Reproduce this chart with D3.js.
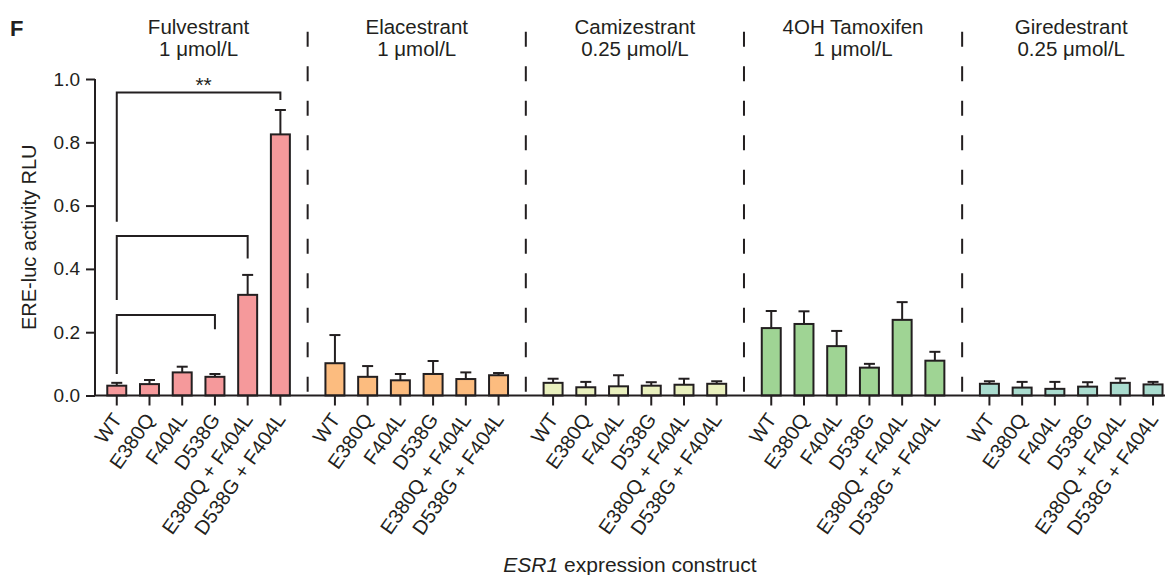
<!DOCTYPE html>
<html>
<head>
<meta charset="utf-8">
<script src="https://cdn.jsdelivr.net/npm/d3@7/dist/d3.min.js"></script>
<style>
  html, body { margin: 0; padding: 0; background: #fff; }
  svg { display: block; font-family: "Liberation Sans", Arial, Helvetica, sans-serif; }
</style>
</head>
<body>
<svg id="chart" width="1165" height="575"></svg>
<script>
// ---------------- data ----------------
const groups = ["Fulvestrant", "Elacestrant", "Camizestrant", "4OH Tamoxifen", "Giredestrant"];
const doses = ["1 μmol/L", "1 μmol/L", "0.25 μmol/L", "1 μmol/L", "0.25 μmol/L"];
const constructs = ["WT", "E380Q", "F404L", "D538G", "E380Q + F404L", "D538G + F404L"];
const colors = ["#f5999b", "#fcbc7f", "#e9f0be", "#9fd494", "#aadccf"];

const fulvestrantMean = [0.031, 0.036, 0.073, 0.059, 0.318, 0.825];
const fulvestrantErr  = [0.009, 0.013, 0.018, 0.009, 0.063, 0.077];
const elacestrantMean = [0.102, 0.059, 0.048, 0.068, 0.052, 0.064];
const elacestrantErr  = [0.089, 0.034, 0.020, 0.041, 0.021, 0.007];
const camizestrantMean = [0.040, 0.026, 0.029, 0.031, 0.034, 0.037];
const camizestrantErr  = [0.013, 0.017, 0.035, 0.011, 0.019, 0.008];
const tamoxifenMean = [0.213, 0.226, 0.156, 0.088, 0.239, 0.110];
const tamoxifenErr  = [0.054, 0.040, 0.048, 0.012, 0.056, 0.028];
const giredestrantMean = [0.037, 0.025, 0.021, 0.028, 0.040, 0.035];
const giredestrantErr  = [0.008, 0.018, 0.022, 0.014, 0.014, 0.008];

const means = [fulvestrantMean, elacestrantMean, camizestrantMean, tamoxifenMean, giredestrantMean];
const errs = [fulvestrantErr, elacestrantErr, camizestrantErr, tamoxifenErr, giredestrantErr];

const yTicks = [0, 0.2, 0.4, 0.6, 0.8, 1.0];

// significance brackets (Fulvestrant group): from/to construct index, levels in RLU
const bracketFrom = [0, 0, 0];
const bracketTo = [5, 4, 3];
const bracketLevel = [0.957, 0.504, 0.254];
const bracketLeftEnd = [0.549, 0.302, 0.068];
const bracketRightEnd = [0.934, 0.433, 0.209];
const bracketLabel = ["**", "", ""];

// ---------------- layout ----------------
const svg = d3.select("#chart");
const ink = "#231f20";
const axisX = 95, plotRight = 1165;

const y = d3.scaleLinear().domain([0, 1]).range([395.5, 79]);
const outer = d3.scaleBand().domain(groups).range([100.4, 1169.4]).paddingInner(0.1).paddingOuter(0);
const inner = d3.scaleBand().domain(constructs).range([0, outer.bandwidth()])
  .paddingInner(0.42).paddingOuter(0.21);
const cx = (g, c) => outer(g) + inner(c) + inner.bandwidth() / 2;

// rows
const rows = [];
groups.forEach((g, gi) => constructs.forEach((c, ci) => {
  rows.push({ g, gi, c, ci, v: means[gi][ci], e: errs[gi][ci] });
}));

// panel label
svg.append("text").attr("x", 10).attr("y", 35.5)
  .attr("font-size", 22).attr("font-weight", "bold").attr("fill", ink).text("F");

// dashed separators
groups.slice(0, -1).forEach((g) => {
  const xx = outer(g) + outer.bandwidth() + (outer.step() - outer.bandwidth()) / 2;
  svg.append("line").attr("x1", xx).attr("x2", xx).attr("y1", 31.7).attr("y2", y(0))
    .attr("stroke", ink).attr("stroke-width", 2).attr("stroke-dasharray", "15,19.5");
});

// group titles
groups.forEach((g, gi) => {
  const t = svg.append("text").attr("text-anchor", "middle").attr("font-size", 20.5).attr("fill", ink);
  const mx = outer(g) + outer.bandwidth() / 2;
  t.append("tspan").attr("x", mx).attr("y", 34).text(g);
  t.append("tspan").attr("x", mx).attr("y", 56).text(doses[gi]);
});

// y axis
const yAxis = d3.axisLeft(y).tickValues(yTicks).tickFormat(d3.format(".1f")).tickSize(9).tickPadding(6);
const yg = svg.append("g").attr("transform", `translate(${axisX},0)`).call(yAxis);
yg.select(".domain").remove();
yg.append("line").attr("x1", 0).attr("x2", 0).attr("y1", y(1)).attr("y2", y(0))
  .attr("stroke", ink).attr("stroke-width", 2);
yg.selectAll(".tick line").attr("stroke", ink).attr("stroke-width", 2);
yg.selectAll(".tick text").attr("font-size", 19).attr("fill", ink).attr("font-family", null);

// y axis title
svg.append("text").attr("transform", `translate(36,${(y(0) + y(1)) / 2}) rotate(-90)`)
  .attr("text-anchor", "middle").attr("font-size", 20).attr("fill", ink).text("ERE-luc activity RLU");

// bars
svg.append("g").selectAll("rect").data(rows).join("rect")
  .attr("x", d => outer(d.g) + inner(d.c))
  .attr("width", inner.bandwidth())
  .attr("y", d => y(d.v))
  .attr("height", d => y(0) - y(d.v))
  .attr("fill", d => colors[d.gi])
  .attr("stroke", ink).attr("stroke-width", 2);

// error bars
const eb = svg.append("g").attr("stroke", ink).attr("stroke-width", 2);
eb.selectAll("line.v").data(rows).join("line").attr("class", "v")
  .attr("x1", d => cx(d.g, d.c)).attr("x2", d => cx(d.g, d.c))
  .attr("y1", d => y(d.v)).attr("y2", d => y(d.v + d.e));
eb.selectAll("line.cap").data(rows).join("line").attr("class", "cap")
  .attr("x1", d => cx(d.g, d.c) - 5.5).attr("x2", d => cx(d.g, d.c) + 5.5)
  .attr("y1", d => y(d.v + d.e)).attr("y2", d => y(d.v + d.e));

// x baseline + ticks
svg.append("line").attr("x1", axisX).attr("x2", plotRight).attr("y1", y(0)).attr("y2", y(0))
  .attr("stroke", ink).attr("stroke-width", 2);
svg.append("g").selectAll("line").data(rows).join("line")
  .attr("x1", d => cx(d.g, d.c)).attr("x2", d => cx(d.g, d.c))
  .attr("y1", y(0)).attr("y2", y(0) + 10)
  .attr("stroke", ink).attr("stroke-width", 2);

// x tick labels
svg.append("g").selectAll("text").data(rows).join("text")
  .attr("transform", d => `translate(${cx(d.g, d.c) + 6},${y(0) + 24}) rotate(-55)`)
  .attr("text-anchor", "end").attr("font-size", 20).attr("fill", ink).text(d => d.c);

// x axis title
const xt = svg.append("text").attr("x", (axisX + plotRight) / 2).attr("y", 572)
  .attr("text-anchor", "middle").attr("font-size", 21).attr("fill", ink);
xt.append("tspan").attr("font-style", "italic").text("ESR1");
xt.append("tspan").text(" expression construct");

// significance brackets
const g0 = groups[0];
const br = svg.append("g").attr("fill", "none").attr("stroke", ink).attr("stroke-width", 2);
bracketFrom.forEach((f, i) => {
  const x1 = cx(g0, constructs[f]), x2 = cx(g0, constructs[bracketTo[i]]);
  br.append("path").attr("d",
    `M${x1},${y(bracketLeftEnd[i])}V${y(bracketLevel[i])}H${x2}V${y(bracketRightEnd[i])}`);
  if (bracketLabel[i]) {
    svg.append("text").attr("x", (x1 + x2) / 2 + 5).attr("y", y(bracketLevel[i]) - 1)
      .attr("text-anchor", "middle").attr("font-size", 21).attr("fill", ink).text(bracketLabel[i]);
  }
});
</script>
</body>
</html>
